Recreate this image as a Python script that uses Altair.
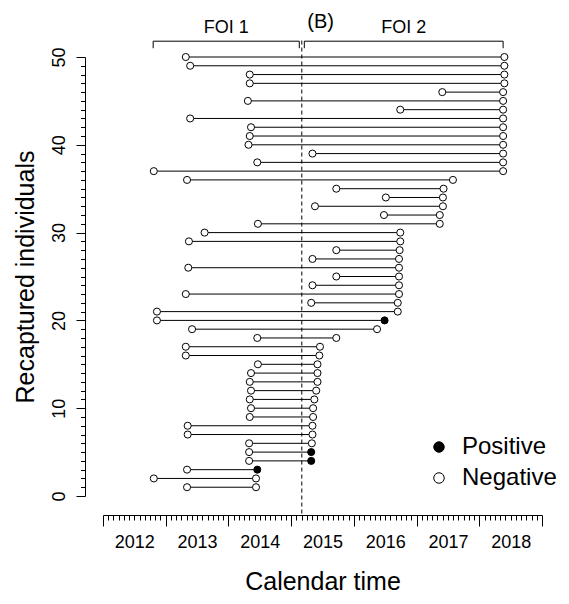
import altair as alt
import pandas as pd

# ---------------- data ----------------
ids = list(range(1, 51))
first_capture = [
    2013.34, 2012.81, 2013.34, 2014.33, 2014.33, 2014.33, 2013.35, 2013.35, 2014.34, 2014.36,
    2014.34, 2014.36, 2014.34, 2014.36, 2014.47, 2013.32, 2013.32, 2014.46, 2013.42, 2012.86,
    2012.86, 2015.32, 2013.32, 2015.34, 2015.72, 2013.36, 2015.34, 2015.72, 2013.37, 2013.62,
    2014.47, 2016.48, 2015.38, 2016.51, 2015.72, 2013.34, 2012.81, 2014.46, 2015.34, 2014.32,
    2014.34, 2014.36, 2013.39, 2016.74, 2014.31, 2017.41, 2014.34, 2014.34, 2013.39, 2013.32,
]
last_capture = [
    2014.44, 2014.44, 2014.46, 2015.32, 2015.32, 2015.33, 2015.34, 2015.34, 2015.35, 2015.35,
    2015.37, 2015.40, 2015.42, 2015.42, 2015.42, 2015.45, 2015.46, 2015.72, 2016.37, 2016.49,
    2016.70, 2016.70, 2016.72, 2016.72, 2016.72, 2016.72, 2016.72, 2016.73, 2016.74, 2016.74,
    2017.37, 2017.37, 2017.42, 2017.42, 2017.43, 2017.58, 2018.38, 2018.38, 2018.38, 2018.38,
    2018.38, 2018.38, 2018.38, 2018.38, 2018.38, 2018.38, 2018.40, 2018.40, 2018.40, 2018.40,
]
positive_ids = [3, 4, 5, 20]
status_names = ["Positive", "Negative"]

foi_split = 2015.17
foi_labels = ["FOI 1", "FOI 2"]
foi_start = [2012.80, 2015.21]
foi_end = [2015.13, 2018.38]
panel_label = "(B)"
panel_label_x = 2015.47

year_ticks = list(range(2012, 2020))
y_min, y_max = 0, 50

# ---------------- tables ----------------
seg = pd.DataFrame({"id": ids, "start": first_capture, "end": last_capture})
pts = pd.concat([
    pd.DataFrame({"id": ids, "time": first_capture, "status": "Negative"}),
    pd.DataFrame({"id": ids, "time": last_capture,
                  "status": ["Positive" if i in positive_ids else "Negative" for i in ids]}),
], ignore_index=True)
split_df = pd.DataFrame({"x": [foi_split], "y0": [y_min - 2], "y1": [y_max + 2]})
foi_df = pd.DataFrame({"label": foi_labels, "start": foi_start, "end": foi_end})
foi_df["mid"] = (foi_df["start"] + foi_df["end"]) / 2
foi_df["yb"] = y_max + 1.8
foi_df["yt"] = y_max + 1.0
foi_df["ylab"] = y_max + 3.25
foi_ends = pd.DataFrame({"x": foi_start + foi_end})
foi_ends["yb"] = y_max + 1.8
foi_ends["yt"] = y_max + 1.0
panel_df = pd.DataFrame({"label": [panel_label], "x": [panel_label_x], "y": [y_max + 4.0]})

FONT = "Liberation Sans"
months = [y + k / 12 for y in year_ticks[:-1] for k in range(12)] + [year_ticks[-1]]

xscale = alt.Scale(domain=[year_ticks[0], year_ticks[-1]], nice=False, zero=False)
yscale = alt.Scale(domain=[y_min, y_max], nice=False, zero=False)

xaxis = alt.Axis(
    values=months, grid=False, offset=19,
    tickSize={"condition": {"test": "abs(datum.value - round(datum.value)) < 0.01", "value": 11}, "value": 5},
    labelExpr="abs(datum.value - floor(datum.value) - 0.5) < 0.01 ? format(floor(datum.value), 'd') : ''",
    labelOverlap=False, labelFlush=False, labelFontSize=18, labelFont=FONT, labelColor="black",
    labelPadding=13, labelBaseline="top",
    domainColor="black", tickColor="black",
    title="Calendar time", titleFont=FONT, titleFontSize=25, titleFontWeight="normal",
    titleColor="black", titlePadding=12,
)
yaxis = alt.Axis(
    values=list(range(y_min, y_max + 1)), grid=False, offset=18,
    tickSize={"condition": {"test": "datum.value % 10 === 0", "value": 9}, "value": 4.5},
    labelExpr="datum.value % 10 === 0 ? datum.label : ''",
    labelOverlap=False, labelFlush=False, labelFontSize=18, labelFont=FONT, labelColor="black",
    labelAngle=270, labelAlign="center", labelBaseline="bottom", labelPadding=8,
    domainColor="black", tickColor="black",
    title="Recaptured individuals", titleFont=FONT, titleFontSize=25, titleFontWeight="normal",
    titleColor="black", titlePadding=12,
)


def X(field):
    return alt.X(field, type="quantitative", scale=xscale, axis=xaxis, title="Calendar time")


def Y(field):
    return alt.Y(field, type="quantitative", scale=yscale, axis=yaxis, title="Recaptured individuals")


split_line = alt.Chart(split_df).mark_rule(color="black", strokeWidth=1, strokeDash=[4, 3]).encode(
    x=X("x"), y=Y("y0"), y2="y1")

segments = alt.Chart(seg).mark_rule(color="black", strokeWidth=1).encode(
    x=X("start"), x2="end", y=Y("id"))

points = alt.Chart(pts).mark_point(shape="circle", filled=True, stroke="black", strokeWidth=1,
                                   size=50, opacity=1).encode(
    x=X("time"), y=Y("id"),
    fill=alt.Fill("status:N", scale=alt.Scale(domain=status_names, range=["black", "white"]),
                  legend=alt.Legend(title=None, orient="none", legendX=324, legendY=378,
                                    labelFontSize=24, labelFont=FONT, labelColor="black",
                                    symbolType="circle", symbolSize=110,
                                    symbolStrokeColor="black", symbolStrokeWidth=1,
                                    labelOffset=11, rowPadding=7, padding=0)))

bracket_h = alt.Chart(foi_df).mark_rule(color="black", strokeWidth=1).encode(
    x=X("start"), x2="end", y=Y("yb"))
bracket_v = alt.Chart(foi_ends).mark_rule(color="black", strokeWidth=1).encode(
    x=X("x"), y=Y("yb"), y2="yt")
foi_text = alt.Chart(foi_df).mark_text(font=FONT, fontSize=18, color="black", baseline="middle").encode(
    x=X("mid"), y=Y("ylab"), text="label")
panel_text = alt.Chart(panel_df).mark_text(font=FONT, fontSize=20, color="black", baseline="middle").encode(
    x=X("x"), y=Y("y"), text="label")

chart = alt.layer(split_line, segments, points, bracket_h, bracket_v, foi_text, panel_text).properties(
    width=439, height=439,
    padding={"left": 95, "top": 49, "right": 19, "bottom": 100},
    autosize=alt.AutoSizeParams(type="none"),
    background="white",
).configure_view(strokeWidth=0)

chart.save("out.html", embed_options={"renderer": "svg", "actions": False})
